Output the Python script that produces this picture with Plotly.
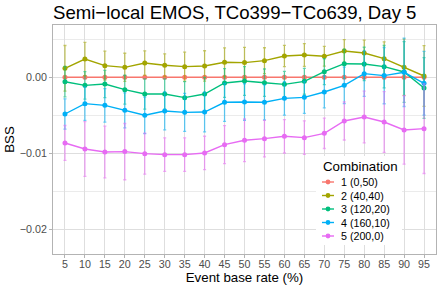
import plotly.graph_objects as go

# ---- data ----
base_rate = [5, 10, 15, 20, 25, 30, 35, 40, 45, 50, 55, 60, 65, 70, 75, 80, 85, 90, 95]

labels = ["1 (0,50)", "2 (40,40)", "3 (120,20)", "4 (160,10)", "5 (200,0)"]
colors = ["#F8766D", "#A3A500", "#00BF7D", "#00B0F6", "#E76BF3"]
err_colors = ["rgba(248,118,109,0.6)", "rgba(163,165,0,0.6)", "rgba(0,191,125,0.6)",
              "rgba(0,176,246,0.6)", "rgba(231,107,243,0.6)"]

bss_1 = [0.0, 0.0, 0.0, 0.0, 0.0, 0.0, 0.0, 0.0, 0.0, 0.0,
         0.0, 0.0, 0.0, 0.0, 0.0, 0.0, 0.0, 0.0, 0.0]
err_1 = [0.0, 0.0, 0.0, 0.0, 0.0, 0.0, 0.0, 0.0, 0.0, 0.0,
         0.0, 0.0, 0.0, 0.0, 0.0, 0.0, 0.0, 0.0, 0.0]

bss_2 = [0.00118, 0.00240, 0.00153, 0.00131, 0.00188, 0.00158, 0.00140, 0.00149, 0.00197, 0.00193,
         0.00219, 0.00280, 0.00293, 0.00276, 0.00346, 0.00320, 0.00245, 0.00131, 0.00017]
err_2 = [0.0030, 0.0022, 0.0019, 0.00185, 0.0016, 0.0015, 0.0019, 0.0020, 0.0019, 0.0020,
         0.0017, 0.0014, 0.0015, 0.0013, 0.0015, 0.0017, 0.0022, 0.0037, 0.0040]

bss_3 = [-0.00058, -0.00106, -0.00088, -0.00163, -0.00220, -0.00220, -0.00268, -0.00220, -0.00075, -0.00049,
         -0.00071, -0.00093, -0.00053, 0.00074, 0.00179, 0.00175, 0.00140, 0.00070, -0.00141]
err_3 = [0.0020, 0.0018, 0.0018, 0.0019, 0.0020, 0.0020, 0.0021, 0.0022, 0.0019, 0.0019,
         0.0018, 0.0017, 0.0017, 0.0017, 0.0019, 0.0022, 0.0028, 0.0040, 0.0040]

bss_4 = [-0.00483, -0.00347, -0.00369, -0.00435, -0.00500, -0.00443, -0.00461, -0.00457, -0.00329, -0.00325,
         -0.00329, -0.00277, -0.00264, -0.00193, -0.00106, 0.00048, 0.00022, 0.00066, -0.00079]
err_4 = [0.0020, 0.0022, 0.0022, 0.0023, 0.0024, 0.0025, 0.0025, 0.0026, 0.0025, 0.0024,
         0.0023, 0.0022, 0.0021, 0.0021, 0.0024, 0.0030, 0.0037, 0.0045, 0.0042]

bss_5 = [-0.00864, -0.00943, -0.00983, -0.00978, -0.01005, -0.01018, -0.01018, -0.00996, -0.00886, -0.00829,
         -0.00807, -0.00776, -0.00794, -0.00737, -0.00575, -0.00522, -0.00588, -0.00693, -0.00676]
err_5 = [0.0023, 0.0036, 0.0034, 0.0037, 0.0027, 0.0022, 0.0022, 0.0022, 0.0025, 0.0028,
         0.0024, 0.0022, 0.0022, 0.0020, 0.0025, 0.0034, 0.0040, 0.0045, 0.0059]

y_ticks = [-0.02, -0.01, 0.0]
y_minor = [-0.015, -0.005, 0.005]

series = [bss_1, bss_2, bss_3, bss_4, bss_5]
errors = [err_1, err_2, err_3, err_4, err_5]

# ---- layout geometry (pixels) ----
W, H = 441, 289
ML, MR, MT, MB = 53, 5, 25, 35
PW, PH = W - ML - MR, H - MT - MB


def px_x(px):
    return (px - ML) / PW


def px_y(py):
    return (H - MB - py) / PH


fig = go.Figure()
for name, ys, es, col, ecol in zip(labels, series, errors, colors, err_colors):
    fig.add_trace(go.Scatter(
        x=base_rate, y=ys, name=name, mode="lines+markers",
        line=dict(color=col, width=1.4),
        marker=dict(color=col, size=5),
        error_y=dict(type="data", array=es, visible=True, color=ecol,
                     thickness=1.3, width=1.5),
        showlegend=False,
    ))

grid_major = "#DEDEDE"
border = "#B3B3B3"

# ---- legend (drawn as layout decorations, ggplot style) ----
shapes = [dict(type="rect", xref="paper", yref="paper", layer="above",
               x0=px_x(316), x1=px_x(402), y0=px_y(245), y1=px_y(156),
               fillcolor="white", line=dict(width=0))]
annotations = [dict(text="Combination", xref="paper", yref="paper",
                    x=px_x(321), y=px_y(166), xanchor="left", yanchor="middle",
                    showarrow=False, font=dict(size=13.3, color="black"))]
for i, (name, col) in enumerate(zip(labels, colors)):
    cy = 182 + i * 13.5
    shapes.append(dict(type="line", xref="paper", yref="paper", layer="above",
                       x0=px_x(322), x1=px_x(334), y0=px_y(cy), y1=px_y(cy),
                       line=dict(color=col, width=1.4)))
    shapes.append(dict(type="circle", xref="paper", yref="paper", layer="above",
                       x0=px_x(325.6), x1=px_x(330.4), y0=px_y(cy + 2.4), y1=px_y(cy - 2.4),
                       fillcolor=col, line=dict(width=0)))
    annotations.append(dict(text=name, xref="paper", yref="paper",
                            x=px_x(339), y=px_y(cy), xanchor="left", yanchor="middle",
                            showarrow=False, font=dict(size=10.7, color="black")))

fig.update_layout(
    width=W, height=H,
    margin=dict(l=ML, r=MR, t=MT, b=MB, autoexpand=False),
    paper_bgcolor="white", plot_bgcolor="white",
    font=dict(family="Liberation Sans, Arial, sans-serif", color="black"),
    title=dict(text="Semi\u2212local EMOS, TCo399\u2212TCo639, Day 5",
               font=dict(size=18.6, color="black"),
               x=ML / W, xanchor="left", y=1 - 12 / H, yanchor="middle"),
    showlegend=False,
    shapes=shapes,
    annotations=annotations,
)

fig.update_xaxes(
    range=[2, 98], tickmode="array", tickvals=base_rate,
    ticktext=[str(v) for v in base_rate],
    automargin=False,
    showgrid=True, gridcolor=grid_major, gridwidth=1,
    zeroline=False, showline=True, mirror=True, linecolor=border, linewidth=1,
    ticks="outside", ticklen=3, tickcolor=border,
    ticklabelstandoff=-3,
    tickfont=dict(size=10.7, color="#4D4D4D"),
    title=dict(text="Event base rate (%)", font=dict(size=13.3, color="black"), standoff=0),
)
fig.update_yaxes(
    range=[-0.02325, 0.00688], tickmode="array", tickvals=y_ticks,
    tickformat=".2f",
    automargin=False,
    showgrid=True, gridcolor=grid_major, gridwidth=1,
    minor=dict(tickmode="array", tickvals=y_minor, showgrid=True,
               gridcolor="#EBEBEB", gridwidth=0.6, ticks=""),
    zeroline=False, showline=True, mirror=True, linecolor=border, linewidth=1,
    ticks="outside", ticklen=3, tickcolor=border,
    tickfont=dict(size=10.7, color="#4D4D4D"),
    title=dict(text="BSS", font=dict(size=13.3, color="black"), standoff=2),
)

fig.write_html(
    "out.html",
    config={"displayModeBar": False},
    post_script="document.body.style.margin='0';document.body.style.overflow='hidden';",
)
